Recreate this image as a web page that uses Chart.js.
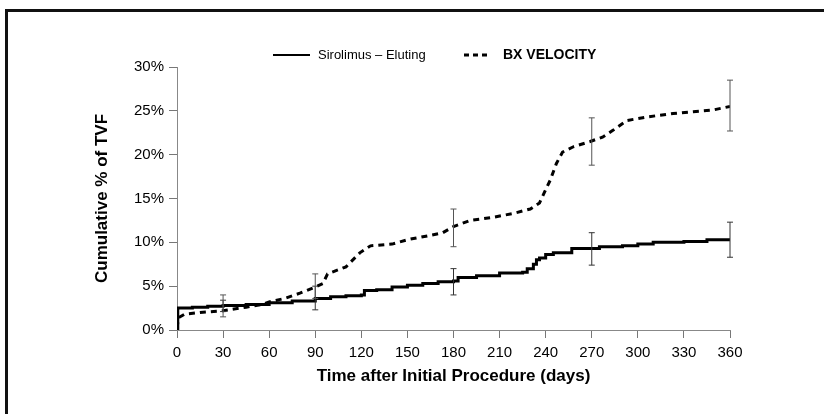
<!DOCTYPE html>
<html>
<head>
<meta charset="utf-8">
<script src="https://cdn.jsdelivr.net/npm/chart.js@4.4.0/dist/chart.umd.min.js"></script>
<style>
  body { margin: 0; background: #fff; }
  #wrap { position: relative; width: 824px; height: 414px; overflow: hidden; }
  #frame { position: absolute; left: 5px; top: 9px; width: 900px; height: 500px;
           border-top: 3px solid #111; border-left: 3px solid #111; }
  canvas { position: absolute; left: 0; top: 0; }
</style>
</head>
<body>
<div id="wrap">
  <div id="frame"></div>
  <canvas id="tvfChart" width="824" height="414"></canvas>
</div>
<script>
// Kaplan-Meier style cumulative TVF curves
const siroDays = [0, 0.5, 10, 20, 30, 45, 60, 75, 90, 100, 110, 120, 122, 130, 140, 150, 160, 170, 180, 183, 195, 210, 225, 228, 232, 234, 236, 240, 245, 255, 257, 270, 275, 290, 300, 310, 330, 345, 360];
const siroVals = [0, 2.5, 2.6, 2.7, 2.8, 2.9, 3.1, 3.3, 3.6, 3.8, 3.9, 4.0, 4.5, 4.6, 4.9, 5.1, 5.3, 5.5, 5.6, 6.0, 6.2, 6.5, 6.6, 7.0, 7.5, 8.0, 8.2, 8.6, 8.8, 8.8, 9.3, 9.3, 9.5, 9.6, 9.8, 10.0, 10.1, 10.3, 10.4];

const bxDays = [0, 1, 5, 15, 30, 45, 55, 60, 70, 80, 90, 95, 98, 110, 119, 126, 140, 150, 165, 173, 180, 191, 204, 219, 230, 236, 240, 243, 247, 251, 258, 269, 277, 284, 293, 306, 323, 336, 349, 360];
const bxVals = [0.2, 1.4, 1.8, 2.0, 2.2, 2.6, 2.9, 3.2, 3.6, 4.2, 4.9, 5.3, 6.4, 7.2, 8.8, 9.6, 9.8, 10.3, 10.8, 11.1, 11.8, 12.5, 12.8, 13.3, 13.8, 14.5, 16.0, 17.1, 19.0, 20.3, 20.9, 21.5, 22.0, 22.8, 23.9, 24.3, 24.7, 24.9, 25.1, 25.5];

// error bars at the follow-up visits
const errDays = [30, 90, 180, 270, 360];
const siroLow = [2.1, 2.3, 4.0, 7.4, 8.3];
const siroHigh = [3.4, 5.0, 7.0, 11.1, 12.3];
const bxLow = [1.5, 3.6, 9.5, 18.8, 22.7];
const bxHigh = [4.0, 6.4, 13.8, 24.2, 28.5];

const seriesNames = ['Sirolimus \u2013 Eluting', 'BX VELOCITY'];
const dayTicks = [0, 30, 60, 90, 120, 150, 180, 210, 240, 270, 300, 330, 360];

const FONT = "'Liberation Sans', Arial, sans-serif";

function toPoints(xs, ys) {
    return xs.map((x, i) => ({ x: x, y: ys[i] }));
}

// draws the vertical error bars with small caps
const errorBarPlugin = {
    id: 'errorBars',
    afterDatasetsDraw(chart) {
        const { ctx, scales: { x, y } } = chart;
        const bars = [
            { low: siroLow, high: siroHigh, color: '#333' },
            { low: bxLow, high: bxHigh, color: '#555' }
        ];
        ctx.save();
        ctx.lineWidth = 1;
        bars.forEach(b => {
            ctx.strokeStyle = b.color;
            errDays.forEach((d, i) => {
                const px = x.getPixelForValue(d);
                const y1 = y.getPixelForValue(b.low[i]);
                const y2 = y.getPixelForValue(b.high[i]);
                ctx.beginPath();
                ctx.moveTo(px, y1); ctx.lineTo(px, y2);
                ctx.moveTo(px - 3, y1); ctx.lineTo(px + 3, y1);
                ctx.moveTo(px - 3, y2); ctx.lineTo(px + 3, y2);
                ctx.stroke();
            });
        });
        ctx.restore();
    }
};

// legend drawn at the top like the original figure
const legendPlugin = {
    id: 'topLegend',
    afterDraw(chart) {
        const ctx = chart.ctx;
        ctx.save();
        ctx.strokeStyle = '#000';
        ctx.lineWidth = 2;
        ctx.beginPath();
        ctx.moveTo(273, 55); ctx.lineTo(310, 55);
        ctx.stroke();
        ctx.setLineDash([5, 4]);
        ctx.lineWidth = 3;
        ctx.beginPath();
        ctx.moveTo(464, 55); ctx.lineTo(490, 55);
        ctx.stroke();
        ctx.setLineDash([]);
        ctx.fillStyle = '#000';
        ctx.textBaseline = 'middle';
        ctx.font = "13px " + FONT;
        ctx.fillText(seriesNames[0], 318, 55);
        ctx.font = "bold 14px " + FONT;
        ctx.fillText(seriesNames[1], 503, 55);
        ctx.restore();
    }
};

new Chart(document.getElementById('tvfChart'), {
    type: 'line',
    data: {
        datasets: [{
            label: seriesNames[0],
            data: toPoints(siroDays, siroVals),
            borderColor: '#000',
            borderWidth: 3,
            stepped: true,
            pointRadius: 0,
            fill: false
        }, {
            label: seriesNames[1],
            data: toPoints(bxDays, bxVals),
            borderColor: '#000',
            borderWidth: 3,
            borderDash: [6, 5],
            tension: 0,
            pointRadius: 0,
            fill: false
        }]
    },
    options: {
        responsive: false,
        animation: false,
        layout: { padding: { top: 67, right: 94, bottom: 0, left: 0 } },
        plugins: {
            legend: { display: false },
            tooltip: { enabled: false }
        },
        scales: {
            x: {
                type: 'linear',
                min: 0,
                max: 360,
                afterBuildTicks: scale => { scale.ticks = dayTicks.map(v => ({ value: v })); },
                afterFit: scale => { scale.height = 84; },
                grid: { drawOnChartArea: false, drawTicks: true, tickLength: 8, color: '#777' },
                border: { color: '#888', width: 1 },
                ticks: { color: '#000', padding: 6, maxRotation: 0, font: { family: FONT, size: 15 } },
                title: {
                    display: true,
                    text: 'Time after Initial Procedure (days)',
                    color: '#000',
                    font: { family: FONT, size: 17, weight: 'bold' },
                    padding: { top: 0, bottom: 27 }
                }
            },
            y: {
                min: 0,
                max: 30,
                afterFit: scale => { scale.width = 177; },
                grid: { drawOnChartArea: false, drawTicks: true, tickLength: 8, color: '#777' },
                border: { color: '#888', width: 1 },
                ticks: {
                    stepSize: 5,
                    color: '#000',
                    padding: 5,
                    font: { family: FONT, size: 15 },
                    callback: v => v + '%'
                },
                title: {
                    display: true,
                    text: 'Cumulative % of TVF',
                    color: '#000',
                    font: { family: FONT, size: 17, weight: 'bold' },
                    padding: { top: 92, bottom: 0 }
                }
            }
        }
    },
    plugins: [errorBarPlugin, legendPlugin]
});
</script>
</body>
</html>
